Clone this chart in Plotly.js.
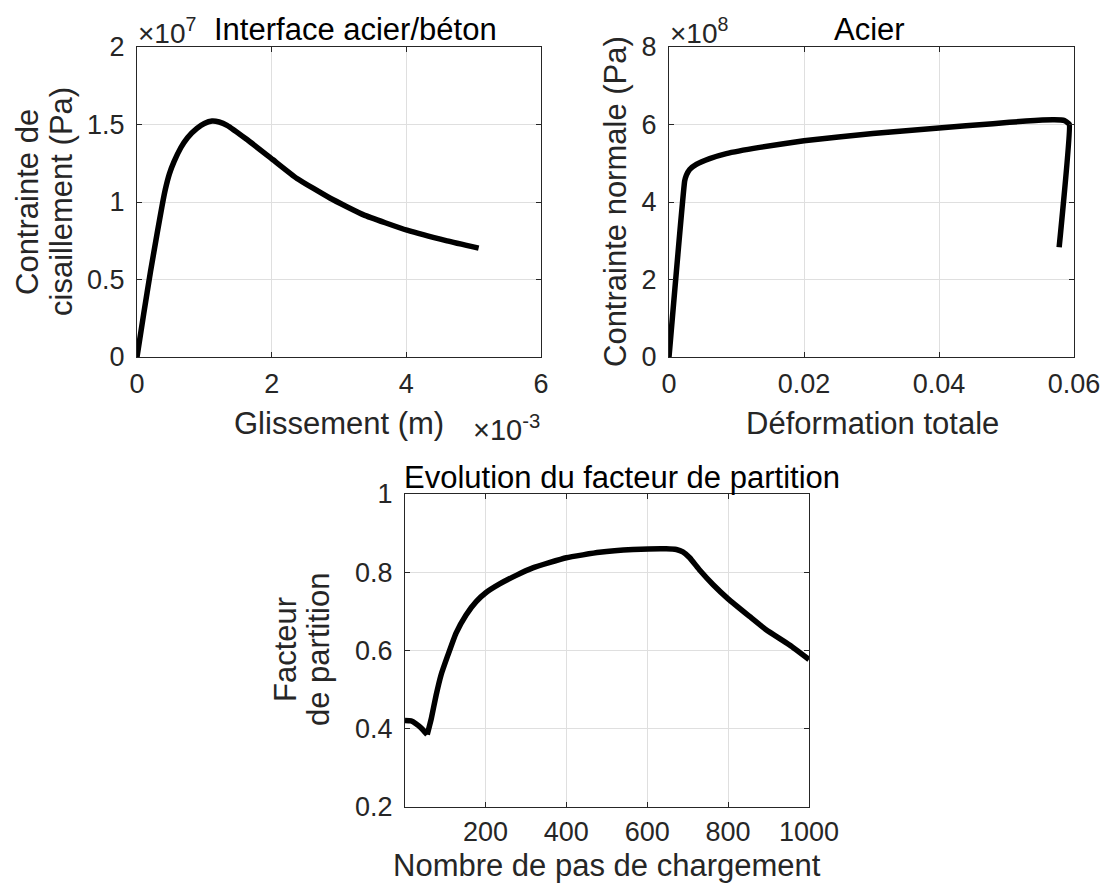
<!DOCTYPE html>
<html>
<head>
<meta charset="utf-8">
<script src="https://cdn.plot.ly/plotly-3.0.1.min.js"></script>
<style>
  html, body { margin: 0; padding: 0; background: #ffffff; }
  #chart { width: 1107px; height: 883px; }
</style>
</head>
<body>
<div id="chart"></div>
<script>
// Interface acier/béton : contrainte de cisaillement (Pa) en fonction du glissement (m)
const glissement = [0, 0.1e-3, 0.2e-3, 0.3e-3, 0.37e-3, 0.42e-3, 0.48e-3, 0.55e-3, 0.65e-3,
  0.75e-3, 0.89e-3, 1.0e-3, 1.114e-3, 1.22e-3, 1.337e-3, 1.634e-3, 2.015e-3, 2.376e-3,
  2.871e-3, 3.366e-3, 4.01e-3, 4.604e-3, 5.074e-3];
const cisaillement = [0, 0.28e7, 0.55e7, 0.80e7, 0.97e7, 1.08e7, 1.18e7, 1.26e7, 1.35e7,
  1.415e7, 1.475e7, 1.507e7, 1.522e7, 1.516e7, 1.495e7, 1.403e7, 1.274e7, 1.152e7,
  1.024e7, 0.917e7, 0.818e7, 0.749e7, 0.702e7];

// Acier : contrainte normale (Pa) en fonction de la déformation totale
const deformation = [0, 0.00232, 0.00257, 0.00306, 0.00405, 0.00602, 0.00849, 0.01343,
  0.02, 0.0302, 0.04, 0.048, 0.0529, 0.0571, 0.0586, 0.0593, 0.0578];
const contrainteAcier = [0, 4.54e8, 4.69e8, 4.84e8, 4.97e8, 5.12e8, 5.25e8, 5.41e8,
  5.58e8, 5.77e8, 5.91e8, 6.02e8, 6.09e8, 6.12e8, 6.10e8, 6.01e8, 2.83e8];

// Evolution du facteur de partition au fil des pas de chargement
const pas = [1, 16, 28, 41, 56, 66, 78, 90, 107, 127, 152, 177, 200, 235, 276, 317, 400,
  482, 565, 647, 672, 688, 705, 730, 763, 800, 853, 894, 952, 1000];
const facteur = [0.421, 0.420, 0.413, 0.402, 0.385, 0.426, 0.486, 0.537, 0.588, 0.644,
  0.691, 0.725, 0.747, 0.770, 0.792, 0.811, 0.837, 0.851, 0.858, 0.860, 0.858, 0.852,
  0.837, 0.805, 0.768, 0.732, 0.687, 0.653, 0.614, 0.577];
// indice du minimum local (changement brusque de pente)
const iMin = 4;

// Graduations
const ticksGlissement = [0, 0.002, 0.004, 0.006];
const labelsGlissement = ['0', '2', '4', '6'];
const ticksCisaillement = [0, 0.5e7, 1e7, 1.5e7, 2e7];
const labelsCisaillement = ['0', '0.5', '1', '1.5', '2'];
const ticksDeformation = [0, 0.02, 0.04, 0.06];
const labelsDeformation = ['0', '0.02', '0.04', '0.06'];
const ticksAcier = [0, 2e8, 4e8, 6e8, 8e8];
const labelsAcier = ['0', '2', '4', '6', '8'];
const ticksPas = [200, 400, 600, 800, 1000];
const ticksFacteur = [0.2, 0.4, 0.6, 0.8, 1];
const labelsFacteur = ['0.2', '0.4', '0.6', '0.8', '1'];

const W = 1107, H = 883;
const FONT = '"Liberation Sans", Arial, Helvetica, sans-serif';
const AX = '#262626';
const GRID = '#dfdfdf';
const TICK_SIZE = 27;
const LABEL_SIZE = 31;
const px = x => x / W;
const py = y => 1 - y / H;

function axisStyle(extra) {
  return Object.assign({
    showline: true, linecolor: AX, linewidth: 1, mirror: 'ticks',
    ticks: 'inside', ticklen: 5, tickcolor: AX, tickwidth: 1,
    showgrid: true, gridcolor: GRID, gridwidth: 1, zeroline: false,
    tickfont: { family: FONT, size: TICK_SIZE, color: AX },
    tickmode: 'array', fixedrange: true
  }, extra);
}

const lineStyle = { color: '#000000', width: 5.5 };
const smooth = Object.assign({ shape: 'spline', smoothing: 0.4 }, lineStyle);

const traces = [
  { x: glissement, y: cisaillement, xaxis: 'x', yaxis: 'y', mode: 'lines', line: smooth, hoverinfo: 'skip' },
  { x: deformation, y: contrainteAcier, xaxis: 'x2', yaxis: 'y2', mode: 'lines',
    line: Object.assign({}, lineStyle, { shape: 'spline', smoothing: 0.3 }), hoverinfo: 'skip' },
  { x: pas.slice(0, iMin + 1), y: facteur.slice(0, iMin + 1), xaxis: 'x3', yaxis: 'y3', mode: 'lines', line: smooth, hoverinfo: 'skip' },
  { x: pas.slice(iMin), y: facteur.slice(iMin), xaxis: 'x3', yaxis: 'y3', mode: 'lines', line: smooth, hoverinfo: 'skip' }
];

function ann(text, x, y, opts) {
  return Object.assign({
    text: text, x: px(x), y: py(y), xref: 'paper', yref: 'paper',
    showarrow: false, xanchor: 'center', yanchor: 'middle',
    font: { family: FONT, size: LABEL_SIZE, color: AX }
  }, opts);
}

const titleFont = { family: FONT, size: LABEL_SIZE, color: '#000' };
const expFont = { family: FONT, size: 28, color: AX };

const annotations = [
  // titres
  ann('Interface acier/béton', 355, 29, { font: titleFont }),
  ann('Acier', 870, 29, { font: titleFont }),
  ann('Evolution du facteur de partition', 622, 477, { font: titleFont }),
  // multiplicateurs
  ann('×10<sup>7</sup>', 136, 31, { xanchor: 'left', font: expFont }),
  ann('×10<sup>8</sup>', 668, 31, { xanchor: 'left', font: expFont }),
  ann('×10<sup>-3</sup>', 542, 428, { xanchor: 'right', font: { family: FONT, size: 29, color: AX } }),
  // titres des axes x
  ann('Glissement (m)', 339, 423),
  ann('Déformation totale', 872, 423),
  ann('Nombre de pas de chargement', 607, 865),
  // titres des axes y
  ann('Contrainte de', 28, 202, { textangle: -90 }),
  ann('cisaillement (Pa)', 62, 202, { textangle: -90 }),
  ann('Contrainte normale (Pa)', 616, 202, { textangle: -90 }),
  ann('Facteur', 285, 650, { textangle: -90 }),
  ann('de partition', 318, 650, { textangle: -90 })
];

const layout = {
  width: W, height: H,
  margin: { l: 0, r: 0, t: 0, b: 0 },
  paper_bgcolor: '#ffffff', plot_bgcolor: '#ffffff',
  showlegend: false,
  xaxis: axisStyle({ domain: [px(137), px(541)], range: [0, 0.006], tickvals: ticksGlissement, ticktext: labelsGlissement, anchor: 'y', ticklabelstandoff: 3 }),
  yaxis: axisStyle({ domain: [py(357), py(47)], range: [0, 2e7], tickvals: ticksCisaillement, ticktext: labelsCisaillement, anchor: 'x', ticklabelstandoff: 6 }),
  xaxis2: axisStyle({ domain: [px(669), px(1074)], range: [0, 0.06], tickvals: ticksDeformation, ticktext: labelsDeformation, anchor: 'y2', ticklabelstandoff: 3 }),
  yaxis2: axisStyle({ domain: [py(357), py(47)], range: [0, 8e8], tickvals: ticksAcier, ticktext: labelsAcier, anchor: 'x2', ticklabelstandoff: 6 }),
  xaxis3: axisStyle({ domain: [px(405), px(809)], range: [1, 1000], tickvals: ticksPas, anchor: 'y3', ticklabelstandoff: 1 }),
  yaxis3: axisStyle({ domain: [py(807), py(494)], range: [0.2, 1], tickvals: ticksFacteur, ticktext: labelsFacteur, anchor: 'x3', ticklabelstandoff: 6 }),
  annotations: annotations
};

Plotly.newPlot('chart', traces, layout, { staticPlot: true, displayModeBar: false });
</script>
</body>
</html>
